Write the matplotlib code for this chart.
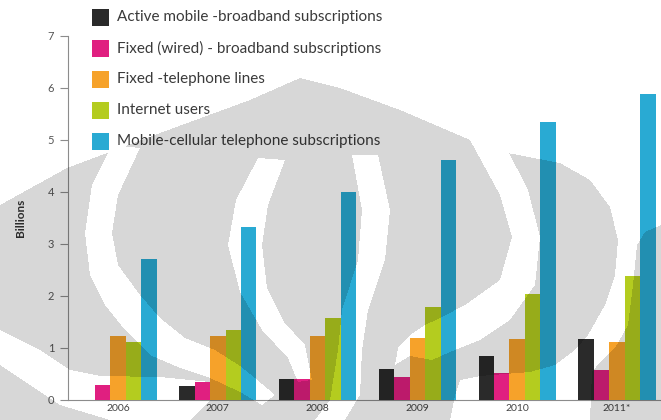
import matplotlib.pyplot as plt
import numpy as np
from matplotlib.patches import Rectangle
from matplotlib.path import Path

plt.rcParams['font.family'] = ['Lato', 'DejaVu Sans']

years = ['2006', '2007', '2008', '2009', '2010', '2011*']
series_names = ['Active mobile -broadband subscriptions',
                'Fixed (wired) - broadband subscriptions',
                'Fixed -telephone lines',
                'Internet users',
                'Mobile-cellular telephone subscriptions']
series_colors = ['#2a2a2a', '#e01f80', '#f6a22a', '#b4cc1f', '#29aad3']

# billions
mobile_broadband = [0.0, 0.26, 0.40, 0.60, 0.85, 1.17]
fixed_broadband = [0.28, 0.35, 0.40, 0.45, 0.51, 0.58]
fixed_telephone = [1.24, 1.24, 1.24, 1.20, 1.17, 1.12]
internet_users = [1.12, 1.35, 1.58, 1.78, 2.04, 2.39]
mobile_cellular = [2.71, 3.33, 4.00, 4.62, 5.34, 5.88]

series = [mobile_broadband, fixed_broadband, fixed_telephone,
          internet_users, mobile_cellular]

W, H = 661, 420
fig = plt.figure(figsize=(W / 100, H / 100), dpi=100)
ax = fig.add_axes([68 / W, 20 / H, 1 - 68 / W, 364 / H])

x = np.arange(len(years))
bw = 0.155
for i, (vals, col) in enumerate(zip(series, series_colors)):
    ax.bar(x + (i - 2) * bw, vals, bw, color=col, linewidth=0, zorder=3)

ax.set_xlim(-0.501, 5.441)
ax.set_ylim(0, 7)
ax.set_yticks(range(8))
ax.set_xticks(x)
ax.set_xticklabels(years)
for s in ['top', 'right']:
    ax.spines[s].set_visible(False)
for s in ['left', 'bottom']:
    ax.spines[s].set_color('#8c8c8c')
    ax.spines[s].set_linewidth(0.8)
ax.tick_params(axis='y', length=6, width=0.8, color='#8c8c8c',
               labelsize=8, labelcolor='#555555', pad=4)
ax.tick_params(axis='x', length=0, labelsize=7.5, labelcolor='#444444', pad=3)
ax.set_ylabel('Billions', fontsize=8.5, color='#333333', fontweight='bold')
ax.yaxis.set_label_coords(-42 / 593, 0.5)

# legend block top left, drawn in pixel units
for i, (name, col) in enumerate(zip(series_names, series_colors)):
    yc = 17 + 31 * i
    fig.add_artist(Rectangle((92 / W, 1 - (yc + 8.5) / H), 17 / W, 17 / H,
                             transform=fig.transFigure, color=col, lw=0))
    fig.text(117 / W, 1 - yc / H, name, fontsize=11, color='#3a3a3a',
             va='center', ha='left')

# grey logo shading behind the figure content
dome = [(0, 420), (0, 205), (67, 168), (160, 133), (250, 100), (300, 78),
        (340, 88), (400, 110), (470, 140), (492, 150), (560, 163),
        (590, 180), (610, 207), (618, 240), (615, 275), (605, 305),
        (588, 335), (575, 350), (555, 365), (530, 372), (480, 376),
        (460, 380), (455, 395), (450, 420)]
right_blob = [(661, 225), (645, 232), (637, 245), (633, 285), (628, 325),
              (615, 348), (600, 362), (592, 372), (590, 420), (661, 420)]
holes = [
    [(112, 145), (92, 185), (85, 233), (90, 275), (105, 305), (125, 330),
     (150, 355), (180, 368), (210, 378), (240, 392), (262, 405),
     (275, 395), (255, 378), (240, 366), (215, 350), (185, 338),
     (160, 318), (140, 295), (118, 265), (112, 233), (118, 195), (140, 148)],
    [(0, 330), (40, 350), (70, 370), (100, 376), (160, 377), (210, 382),
     (210, 400), (190, 420), (110, 420), (60, 405), (30, 385), (0, 365)],
    [(258, 158), (236, 200), (228, 245), (240, 292), (262, 330), (288, 358),
     (298, 382), (312, 380), (305, 345), (284, 322), (267, 288), (262, 245),
     (268, 205), (285, 160)],
    [(352, 155), (362, 210), (358, 260), (342, 310), (338, 350), (330, 400),
     (315, 420), (345, 420), (360, 395), (362, 350), (368, 310), (385, 260),
     (390, 210), (378, 155)],
    [(470, 140), (500, 195), (512, 237), (500, 280), (465, 305), (440, 318),
     (425, 325), (410, 335), (398, 348), (395, 365), (410, 356), (432, 360),
     (450, 352), (480, 340), (510, 320), (535, 285), (540, 237), (528, 190),
     (505, 145)],
]

yy, xx = np.mgrid[0:H, 0:W]
pts = np.column_stack([xx.ravel() + 0.5, yy.ravel() + 0.5])


def inside(poly):
    return Path(poly).contains_points(pts).reshape(H, W)


mask = inside(dome) | inside(right_blob)
for h in holes:
    mask &= ~inside(h)
shade = np.zeros((H, W, 4))
shade[..., 3] = mask * 0.16

over = fig.add_axes([0, 0, 1, 1], zorder=10)
over.imshow(shade, extent=(0, W, H, 0), aspect='auto', interpolation='bilinear')
over.set_xlim(0, W)
over.set_ylim(H, 0)
over.axis('off')

fig.savefig('out.png', dpi=100)
